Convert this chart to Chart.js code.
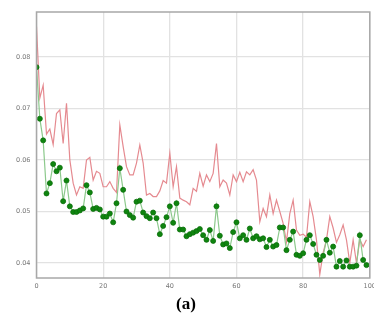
<!DOCTYPE html>
<html>
<head>
<meta charset="utf-8">
<script src="https://cdn.jsdelivr.net/npm/chart.js@4.4.1/dist/chart.umd.min.js"></script>
<style>
    html, body { margin: 0; padding: 0; background: #fff; overflow: hidden; width: 374px; height: 320px; }
    #wrap { position: relative; width: 380px; height: 296px; }
    #caption {
        position: absolute; left: 0; top: 294px; width: 372px; text-align: center;
        font-family: "Liberation Serif", "DejaVu Serif", serif; font-weight: bold; font-size: 17px; color: #000;
    }
</style>
</head>
<body>
<div id="wrap"><canvas id="chart" width="380" height="296"></canvas></div>
<div id="caption">(a)</div>
<script>
// 1. DATA
const steps = Array.from({ length: 100 }, (_, i) => i);

const redSeries = [
    0.0859, 0.0720, 0.0745, 0.0650, 0.0660, 0.0630, 0.0690, 0.0697, 0.0632, 0.0710,
    0.0600, 0.0555, 0.0532, 0.0548, 0.0545, 0.0600, 0.0605, 0.0561, 0.0578, 0.0574,
    0.0548, 0.0548, 0.0558, 0.0545, 0.0537, 0.0668, 0.0626, 0.0587, 0.0571, 0.0571,
    0.0594, 0.0629, 0.0594, 0.0532, 0.0535, 0.0529, 0.0529, 0.0540, 0.0560, 0.0555,
    0.0613, 0.0548, 0.0587, 0.0526, 0.0522, 0.0519, 0.0513, 0.0545, 0.0539, 0.0574,
    0.0549, 0.0571, 0.0558, 0.0574, 0.0632, 0.0548, 0.0561, 0.0555, 0.0532, 0.0571,
    0.0558, 0.0576, 0.0558, 0.0577, 0.0571, 0.0581, 0.0561, 0.0480, 0.0506, 0.0490,
    0.0532, 0.0496, 0.0522, 0.0500, 0.0477, 0.0441, 0.0496, 0.0522, 0.0464, 0.0454,
    0.0456, 0.0450, 0.0519, 0.0490, 0.0445, 0.0378, 0.0420, 0.0445, 0.0490, 0.0468,
    0.0440, 0.0455, 0.0474, 0.0445, 0.0400, 0.0445, 0.0400, 0.0445, 0.0432, 0.0445
];

const greenSeries = [
    0.0780, 0.0680, 0.0638, 0.0535, 0.0555, 0.0592, 0.0578, 0.0585, 0.0520, 0.0560,
    0.0510, 0.0499, 0.0499, 0.0502, 0.0506, 0.0551, 0.0537, 0.0505, 0.0507, 0.0504,
    0.0490, 0.0490, 0.0496, 0.0479, 0.0516, 0.0584, 0.0542, 0.0500, 0.0493, 0.0488,
    0.0519, 0.0521, 0.0498, 0.0491, 0.0487, 0.0498, 0.0487, 0.0456, 0.0472, 0.0489,
    0.0510, 0.0478, 0.0516, 0.0465, 0.0465, 0.0452, 0.0456, 0.0459, 0.0462, 0.0466,
    0.0454, 0.0445, 0.0464, 0.0443, 0.0510, 0.0453, 0.0436, 0.0438, 0.0429, 0.0460,
    0.0479, 0.0448, 0.0454, 0.0445, 0.0467, 0.0448, 0.0452, 0.0446, 0.0448, 0.0431,
    0.0445, 0.0432, 0.0435, 0.0469, 0.0469, 0.0425, 0.0445, 0.0461, 0.0416, 0.0414,
    0.0419, 0.0445, 0.0454, 0.0437, 0.0416, 0.0406, 0.0414, 0.0445, 0.0420, 0.0432,
    0.0393, 0.0404, 0.0393, 0.0405, 0.0393, 0.0393, 0.0395, 0.0454, 0.0406, 0.0396
];

const xTicks = [0, 20, 40, 60, 80, 100];
const yTicks = [0.04, 0.05, 0.06, 0.07, 0.08];

// 2. FRAME PLUGIN (box round the plot area, like the matplotlib spines)
const frame = {
    id: 'frame',
    afterDraw(chart) {
        const { ctx, chartArea: a } = chart;
        ctx.save();
        ctx.strokeStyle = '#a8a8a8';
        ctx.lineWidth = 1.5;
        ctx.strokeRect(a.left, a.top, a.right - a.left, a.bottom - a.top);
        ctx.restore();
    }
};

// 3. CHART
new Chart(document.getElementById('chart'), {
    type: 'line',
    data: {
        labels: steps,
        datasets: [
            {
                data: greenSeries.map((v, i) => ({ x: steps[i], y: v })),
                borderColor: '#8cc98c',
                borderWidth: 1.2,
                pointRadius: 2.5,
                pointBackgroundColor: '#0f850f',
                pointBorderColor: '#0a6e0a',
                pointBorderWidth: 0.8,
                order: 1
            },
            {
                data: redSeries.map((v, i) => ({ x: steps[i], y: v })),
                borderColor: '#e58a90',
                borderWidth: 1.2,
                pointRadius: 0,
                order: 2
            }
        ]
    },
    options: {
        responsive: false,
        animation: false,
        devicePixelRatio: 1,
        layout: { padding: { top: 12, right: 3, left: 0, bottom: 0 } },
        plugins: { legend: { display: false }, tooltip: { enabled: false } },
        scales: {
            x: {
                type: 'linear',
                min: 0,
                max: 100,
                afterBuildTicks: (s) => { s.ticks = xTicks.map(v => ({ value: v })); },
                afterFit: (s) => { s.height = 18; },
                grid: { color: '#e2e2e2', lineWidth: 1.3, drawTicks: false },
                border: { display: false },
                ticks: { color: '#777', font: { family: 'DejaVu Sans', size: 6.5 }, padding: 4, maxRotation: 0 }
            },
            y: {
                min: 0.0371,
                max: 0.0887,
                afterBuildTicks: (s) => { s.ticks = yTicks.map(v => ({ value: v })); },
                afterFit: (s) => { s.width = 36.5; },
                grid: { color: '#e2e2e2', lineWidth: 1.3, drawTicks: false },
                border: { display: false },
                ticks: {
                    color: '#777', font: { family: 'DejaVu Sans', size: 6.5 }, padding: 6,
                    callback: (v) => v.toFixed(2)
                }
            }
        }
    },
    plugins: [frame]
});
</script>
</body>
</html>
